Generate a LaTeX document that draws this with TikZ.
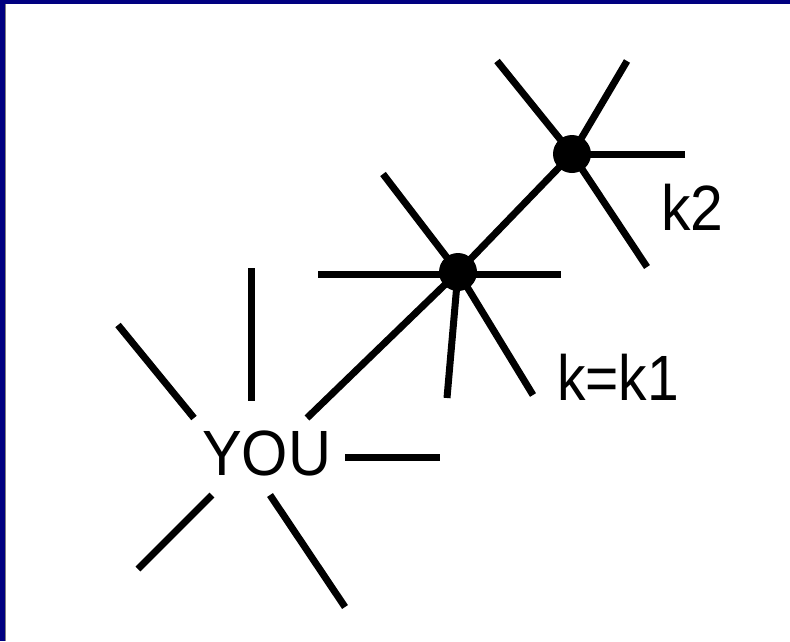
\documentclass[tikz,border=0pt]{standalone}
\usepackage{fontspec}
\setmainfont{Liberation Sans}
\newcommand{\narrowtext}[2]{\scalebox{#1}[1]{#2}}
\begin{document}
\begin{tikzpicture}[x=1pt,y=-1pt,
  spoke/.style={line width=7pt, black},
  dot/.style={circle, fill=black, minimum size=38pt, inner sep=0pt},
  lbl/.style={inner sep=0pt, anchor=base west, font=\fontsize{64}{77}\selectfont}]
\useasboundingbox (0,0) rectangle (790,641);
\fill[white] (0,0) rectangle (790,641);
% frame
\fill[fill={rgb,255:red,0;green,0;blue,128}] (0,0) rectangle (790,3.5);
\fill[fill={rgb,255:red,0;green,0;blue,128}] (0,0) rectangle (5,641);
\draw[gray, line width=0.8pt] (5.4,3.5) -- (5.4,641);
% nodes
\node[lbl] (you) at (202,475) {\narrowtext{0.93}{YOU}};
\node[lbl] (kk1) at (557,400) {\narrowtext{0.89}{k=k1}};
\node[lbl] (kk2) at (661,230) {\narrowtext{0.92}{k2}};
\coordinate (k1c) at (458,272);
\coordinate (k2c) at (572,154);
% free ends
\coordinate (y0) at (307,418);
\coordinate (y1) at (251,268);
\coordinate (y2) at (251,401);
\coordinate (y3) at (118,325);
\coordinate (y4) at (194,418);
\coordinate (y5) at (212,495);
\coordinate (y6) at (138,569);
\coordinate (y7) at (270,495);
\coordinate (y8) at (345,607);
\coordinate (y9) at (345,457);
\coordinate (y10) at (440,457);
\coordinate (a1) at (318,274);
\coordinate (a2) at (561,274);
\coordinate (a3) at (383,174);
\coordinate (a4) at (447,398);
\coordinate (a5) at (533,395);
\coordinate (b1) at (497,61);
\coordinate (b2) at (627,61);
\coordinate (b3) at (685,154);
\coordinate (b4) at (647,267);
% spokes around YOU
\draw[spoke] (y1) -- (y2);
\draw[spoke] (y3) -- (y4);
\draw[spoke] (y5) -- (y6);
\draw[spoke] (y7) -- (y8);
\draw[spoke] (y9) -- (y10);
% main chain
\draw[spoke] (y0) -- (k1c) -- (k2c);
% k1 spokes
\draw[spoke] (a1) -- (a2);
\draw[spoke] (a3) -- (k1c);
\draw[spoke] (a4) -- (k1c);
\draw[spoke] (a5) -- (k1c);
% k2 spokes
\draw[spoke] (b1) -- (k2c);
\draw[spoke] (b2) -- (k2c);
\draw[spoke] (b3) -- (k2c);
\draw[spoke] (b4) -- (k2c);
% dots
\node[dot] (k1) at (k1c) {};
\node[dot] (k2) at (k2c) {};
\end{tikzpicture}
\end{document}
